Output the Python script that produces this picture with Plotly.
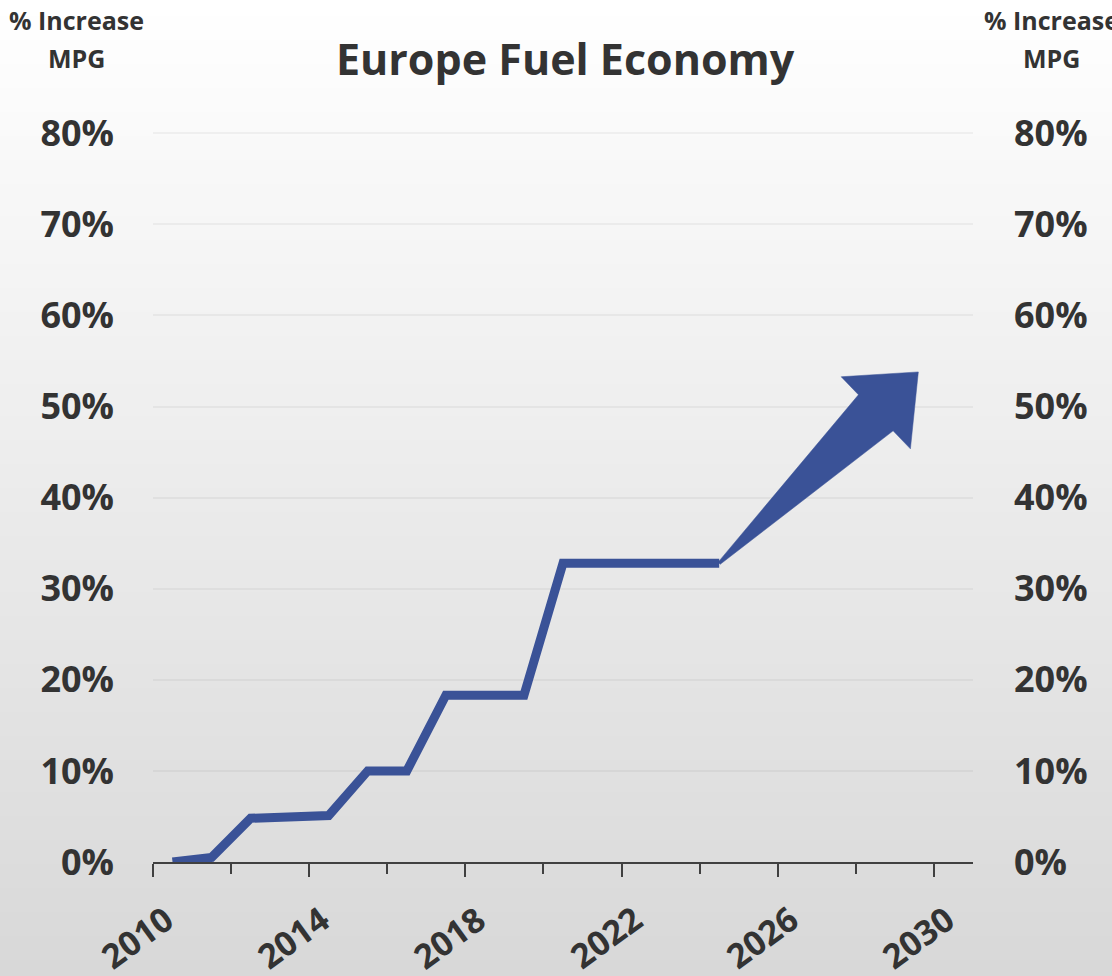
import math
import plotly.graph_objects as go

# Fleet fuel-economy improvement, % increase in MPG versus 2010 (plotted mid-year)
years = [2010, 2011, 2012, 2013, 2014, 2015, 2016, 2017, 2018, 2019,
         2020, 2021, 2022, 2023, 2024]
pct_increase = [0.0, 0.5, 4.8, 5.0, 5.1, 10.0, 10.0, 18.3, 18.3, 18.3,
                32.8, 32.8, 32.8, 32.8, 32.8]

# Projected trend arrow: from the last observed value to the 2030 outlook
arrow_start = (2024.5, 32.8)
arrow_end = (2029.6, 53.8)

x_tick_labels = [2010, 2014, 2018, 2022, 2026, 2030]
y_tick_values = [0, 10, 20, 30, 40, 50, 60, 70, 80]
y_tick_text = [f"{v}%" for v in y_tick_values]

BLUE = "#3a5297"
TEXT = "#333333"
AXIS = "#404040"
FONT = "Open Sans"

W, H = 1112, 976
L, R, T, B = 153, 973, 131, 862
X_RANGE = (2010, 2031)
Y_RANGE = (0, 80.25)


def to_px(x, y):
    px = L + (x - X_RANGE[0]) * (R - L) / (X_RANGE[1] - X_RANGE[0])
    py = B - (y - Y_RANGE[0]) * (B - T) / (Y_RANGE[1] - Y_RANGE[0])
    return px, py


def from_px(px, py):
    x = X_RANGE[0] + (px - L) * (X_RANGE[1] - X_RANGE[0]) / (R - L)
    y = Y_RANGE[0] + (B - py) * (Y_RANGE[1] - Y_RANGE[0]) / (B - T)
    return x, y


def paper_x(px):
    return (px - L) / (R - L)


def paper_y(py):
    return (B - py) / (B - T)


# Tapered arrow outline built in screen space, then mapped back to data units
def arrow_polygon(start, end, head_len=59, head_half=50, neck_half=25, tail_half=1.5):
    sx, sy = to_px(*start)
    ex, ey = to_px(*end)
    dx, dy = ex - sx, ey - sy
    n = math.hypot(dx, dy)
    ux, uy = dx / n, dy / n
    px_, py_ = -uy, ux
    bx, by = ex - ux * head_len, ey - uy * head_len
    pts = [
        (sx - px_ * tail_half, sy - py_ * tail_half),
        (bx - px_ * neck_half, by - py_ * neck_half),
        (bx - px_ * head_half, by - py_ * head_half),
        (ex, ey),
        (bx + px_ * head_half, by + py_ * head_half),
        (bx + px_ * neck_half, by + py_ * neck_half),
        (sx + px_ * tail_half, sy + py_ * tail_half),
    ]
    pts.append(pts[0])
    data = [from_px(a, b) for a, b in pts]
    return [p[0] for p in data], [p[1] for p in data]


fig = go.Figure()

fig.add_trace(go.Scatter(
    x=[y + 0.5 for y in years], y=pct_increase,
    mode="lines",
    line=dict(color=BLUE, width=9),
    hoverinfo="skip", showlegend=False,
))

# The arrow sits on the mirrored right-hand axis (same scale) so that axis is drawn
ax_x, ax_y = arrow_polygon(arrow_start, arrow_end)
fig.add_trace(go.Scatter(
    x=ax_x, y=ax_y, mode="lines", fill="toself", yaxis="y2",
    fillcolor=BLUE, line=dict(color=BLUE, width=0.5),
    hoverinfo="skip", showlegend=False,
))

# Soft vertical gradient behind the whole chart
shapes = []
bands = 122
top_c, bot_c = 255, 216
for i in range(bands):
    y0_px = H * i / bands
    y1_px = H * (i + 1) / bands + 0.6
    t = (i + 0.5) / bands
    c = round(top_c + (bot_c - top_c) * t)
    shapes.append(dict(
        type="rect", xref="paper", yref="paper", layer="below",
        x0=paper_x(0), x1=paper_x(W),
        y0=paper_y(y1_px), y1=paper_y(y0_px),
        fillcolor=f"rgb({c},{c},{c})", line=dict(width=0),
    ))

annotations = []
# Rotated year labels under the axis
for yr in x_tick_labels:
    annotations.append(dict(
        x=yr, y=0, xref="x", yref="paper", text=f"<b>{yr}</b>",
        showarrow=False, textangle=-36, xanchor="center", yanchor="middle",
        xshift=-16, yshift=-75,
        font=dict(family=FONT, size=34, color=TEXT),
    ))

# Title and axis captions
annotations.append(dict(
    x=paper_x(565), y=paper_y(58), xref="paper", yref="paper",
    text="<b>Europe Fuel Economy</b>", showarrow=False,
    xanchor="center", yanchor="middle",
    font=dict(family=FONT, size=43, color=TEXT),
))
for cx in (76, 1051):
    annotations.append(dict(
        x=paper_x(cx), y=paper_y(20), xref="paper", yref="paper",
        text="<b>% Increase</b>", showarrow=False,
        xanchor="center", yanchor="middle",
        font=dict(family=FONT, size=25, color=TEXT),
    ))
    annotations.append(dict(
        x=paper_x(cx), y=paper_y(58), xref="paper", yref="paper",
        text="<b>MPG</b>", showarrow=False,
        xanchor="center", yanchor="middle",
        font=dict(family=FONT, size=25, color=TEXT),
    ))

tickfont = dict(family=FONT, size=36, color=TEXT, weight="bold")

fig.update_layout(
    width=W, height=H,
    margin=dict(l=L, r=W - R, t=T, b=H - B, autoexpand=False),
    paper_bgcolor="white",
    plot_bgcolor="rgba(0,0,0,0)",
    shapes=shapes,
    annotations=annotations,
    xaxis=dict(
        range=list(X_RANGE), showgrid=False, zeroline=False,
        showline=True, linecolor=AXIS, linewidth=2,
        tickmode="array", tickvals=x_tick_labels, showticklabels=False,
        ticks="outside", ticklen=13, tickwidth=2, tickcolor=AXIS,
        minor=dict(tickmode="array", tickvals=list(range(2010, 2031, 2)),
                   ticks="outside", ticklen=10, tickwidth=2, tickcolor=AXIS),
        fixedrange=True,
    ),
    yaxis=dict(
        range=list(Y_RANGE), tickmode="array",
        tickvals=y_tick_values, ticktext=y_tick_text,
        showgrid=True, gridcolor="rgba(0,0,0,0.045)", gridwidth=2,
        zeroline=False, showline=False,
        tickfont=tickfont, ticklabelstandoff=38,
        fixedrange=True,
    ),
    yaxis2=dict(
        range=list(Y_RANGE), tickmode="array",
        tickvals=y_tick_values, ticktext=y_tick_text,
        overlaying="y", side="right", showgrid=False, zeroline=False,
        showline=False, tickfont=tickfont, ticklabelstandoff=40,
        fixedrange=True,
    ),
    showlegend=False,
)

fig.write_html("out.html")
